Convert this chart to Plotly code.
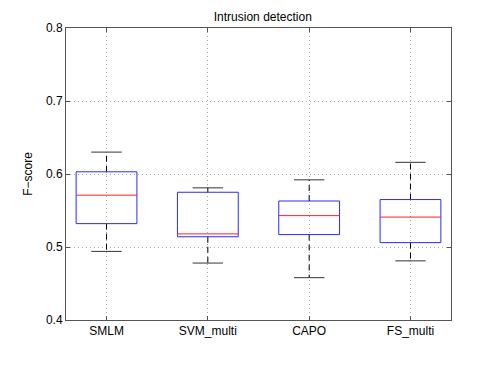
import plotly.graph_objects as go

categories = ["SMLM", "SVM_multi", "CAPO", "FS_multi"]
lower_whisker = [0.494, 0.478, 0.458, 0.481]
q1 = [0.532, 0.514, 0.517, 0.506]
median = [0.571, 0.518, 0.543, 0.541]
q3 = [0.603, 0.575, 0.563, 0.565]
upper_whisker = [0.630, 0.581, 0.592, 0.616]
y_ticks = [0.4, 0.5, 0.6, 0.7, 0.8]

BOX_HALF = 0.3
CAP_HALF = 0.15
FONT = "Liberation Sans, Arial, sans-serif"

fig = go.Figure()

bx, by, mx, my, wx, wy, cx, cy = [], [], [], [], [], [], [], []
for i, cat in enumerate(categories):
    p = i + 1
    bx += [p - BOX_HALF, p + BOX_HALF, p + BOX_HALF, p - BOX_HALF, p - BOX_HALF, None]
    by += [q1[i], q1[i], q3[i], q3[i], q1[i], None]
    mx += [p - BOX_HALF, p + BOX_HALF, None]
    my += [median[i], median[i], None]
    wx += [p, p, None, p, p, None]
    wy += [q3[i], upper_whisker[i], None, q1[i], lower_whisker[i], None]
    cx += [p - CAP_HALF, p + CAP_HALF, None, p - CAP_HALF, p + CAP_HALF, None]
    cy += [upper_whisker[i], upper_whisker[i], None, lower_whisker[i], lower_whisker[i], None]

fig.add_trace(go.Scatter(x=wx, y=wy, mode="lines",
                         line=dict(color="black", width=1, dash="6px,4px"),
                         hoverinfo="skip", showlegend=False))
fig.add_trace(go.Scatter(x=cx, y=cy, mode="lines",
                         line=dict(color="#333333", width=1),
                         hoverinfo="skip", showlegend=False))
fig.add_trace(go.Scatter(x=bx, y=by, mode="lines",
                         line=dict(color="#2a2aff", width=1),
                         hoverinfo="skip", showlegend=False))
fig.add_trace(go.Scatter(x=mx, y=my, mode="lines",
                         line=dict(color="#ff2020", width=1),
                         hoverinfo="skip", showlegend=False))

axis_common = dict(
    showline=True, linecolor="#555555", linewidth=1, mirror="ticks",
    ticks="inside", ticklen=4, tickcolor="#555555",
    showgrid=True, gridcolor="#aaaaaa", griddash="1px,3px", gridwidth=1,
    zeroline=False,
    tickfont=dict(family=FONT, size=12, color="black"),
)

fig.update_layout(
    width=490, height=367,
    margin=dict(l=58, r=47, t=20, b=55),
    paper_bgcolor="white", plot_bgcolor="white",
    title=dict(text="Intrusion detection", x=0.52, xanchor="center",
               y=0.975, yanchor="middle",
               font=dict(family=FONT, size=12, color="black")),
    xaxis=dict(range=[0.6, 4.4], tickmode="array",
               tickvals=list(range(1, len(categories) + 1)),
               ticktext=categories, **axis_common),
    yaxis=dict(range=[0.4, 0.8], tickmode="array", tickvals=y_ticks,
               ticktext=[f"{v:.1f}" for v in y_ticks],
               title=dict(text="F\u2212score", standoff=10,
                          font=dict(family=FONT, size=12, color="black")),
               **axis_common),
)

fig.write_html("out.html")
